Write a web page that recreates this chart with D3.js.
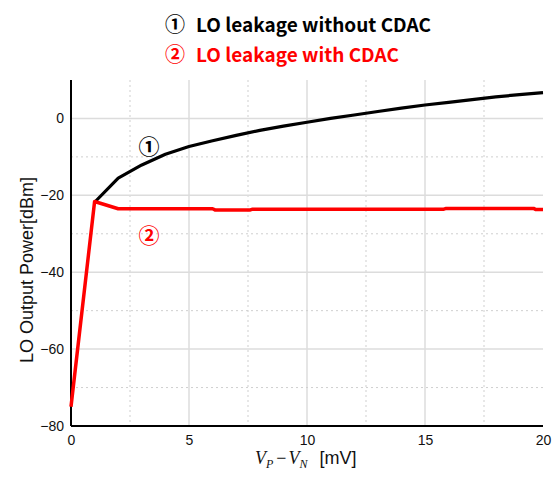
<!DOCTYPE html>
<html>
<head>
<meta charset="utf-8">
<script src="https://cdn.jsdelivr.net/npm/d3@7"></script>
<style>
  html, body { margin: 0; padding: 0; background: #fff; }
  svg { display: block; }
</style>
</head>
<body>
<svg id="chart" width="552" height="477"></svg>
<script>
// LO leakage vs. input offset voltage (VP - VN)
const xWithout = [1, 2, 3, 4, 5, 6, 7, 8, 9, 10, 11, 12, 13, 14, 15, 16, 17, 18, 19, 20];
const yWithout = [-21.8, -15.5, -12.1, -9.3, -7.3, -5.8, -4.4, -3.1, -2.0, -1.0, 0.0, 0.9, 1.8, 2.7, 3.5, 4.2, 4.9, 5.6, 6.2, 6.7];

const xWith = [0, 1, 2, 6, 6.1, 7.6, 7.7, 15.8, 15.9, 19.6, 19.7, 20];
const yWith = [-75, -21.6, -23.5, -23.5, -23.8, -23.8, -23.6, -23.6, -23.4, -23.4, -23.7, -23.7];

const xTicks = [0, 5, 10, 15, 20];
const xMinor = [2.5, 7.5, 12.5, 17.5];
const yTicks = [0, -20, -40, -60, -80];
const yMinor = [-10, -30, -50, -70];

const legendLabels = ["LO leakage without CDAC", "LO leakage with CDAC"];
const markers = ["\u2460", "\u2461"];
const seriesColors = ["#000000", "#ff0000"];

const svg = d3.select("#chart");
const plot = { left: 71, right: 543, top: 80, bottom: 426 };

const x = d3.scaleLinear().domain([0, 20]).range([plot.left, plot.right]);
const y = d3.scaleLinear().domain([-80, 10]).range([plot.bottom, plot.top]);

// grid: solid major lines, dotted minor lines
const grid = svg.append("g");
grid.selectAll(".vmaj").data(xTicks.filter(d => d > 0 && d < 20)).join("line")
  .attr("x1", d => x(d)).attr("x2", d => x(d))
  .attr("y1", plot.top).attr("y2", plot.bottom)
  .attr("stroke", "#dcdcdc").attr("stroke-width", 1.5);
grid.selectAll(".vmin").data(xMinor).join("line")
  .attr("x1", d => x(d)).attr("x2", d => x(d))
  .attr("y1", plot.top).attr("y2", plot.bottom)
  .attr("stroke", "#cfcfcf").attr("stroke-width", 1).attr("stroke-dasharray", "2,3");
grid.selectAll(".hmaj").data(yTicks.filter(d => d > -80)).join("line")
  .attr("x1", plot.left).attr("x2", plot.right)
  .attr("y1", d => y(d)).attr("y2", d => y(d))
  .attr("stroke", "#dcdcdc").attr("stroke-width", 1.5);
grid.selectAll(".hmin").data(yMinor).join("line")
  .attr("x1", plot.left).attr("x2", plot.right)
  .attr("y1", d => y(d)).attr("y2", d => y(d))
  .attr("stroke", "#cfcfcf").attr("stroke-width", 1).attr("stroke-dasharray", "2,3");

// axes
const xAxis = d3.axisBottom(x).tickValues(xTicks).tickSize(0).tickPadding(9);
const yAxis = d3.axisLeft(y).tickValues(yTicks).tickSize(0).tickPadding(7);

const gx = svg.append("g").attr("transform", `translate(0,${plot.bottom})`).call(xAxis);
gx.select(".domain").attr("stroke", "#000").attr("stroke-width", 2).attr("d", `M${plot.left},0H${plot.right}`);
gx.selectAll("text").attr("font-family", "Liberation Sans, Arial, sans-serif").attr("font-size", 14).attr("fill", "#111");

const gy = svg.append("g").attr("transform", `translate(${plot.left},0)`).call(yAxis);
gy.select(".domain").attr("stroke", "#000").attr("stroke-width", 2).attr("d", `M0,${plot.top}V${plot.bottom}`);
gy.selectAll("text").attr("font-family", "Liberation Sans, Arial, sans-serif").attr("font-size", 14).attr("fill", "#111");

// curves
const line = d3.line().x(d => x(d[0])).y(d => y(d[1]));
const withoutPts = xWithout.map((v, i) => [v, yWithout[i]]);
const withPts = xWith.map((v, i) => [v, yWith[i]]);

svg.append("path").datum(withoutPts).attr("d", line)
  .attr("fill", "none").attr("stroke", seriesColors[0]).attr("stroke-width", 3.2)
  .attr("stroke-linejoin", "round");
svg.append("path").datum(withPts).attr("d", line)
  .attr("fill", "none").attr("stroke", seriesColors[1]).attr("stroke-width", 3.5)
  .attr("stroke-linejoin", "round");

// curve markers
const cjk = "'Noto Sans CJK KR', 'Noto Sans', sans-serif";
svg.append("text").attr("x", x(3.3)).attr("y", y(-6.8)).attr("text-anchor", "middle")
  .attr("dominant-baseline", "central").attr("font-family", cjk).attr("font-size", 21)
  .attr("font-weight", "bold").attr("fill", seriesColors[0]).text(markers[0]);
svg.append("text").attr("x", x(3.3)).attr("y", y(-30.0)).attr("text-anchor", "middle")
  .attr("dominant-baseline", "central").attr("font-family", cjk).attr("font-size", 21)
  .attr("fill", seriesColors[1]).attr("font-weight", "bold").text(markers[1]);

// legend
const legend = svg.append("g");
[0, 1].forEach(i => {
  const cy = 23 + i * 30;
  legend.append("text").attr("x", 175).attr("y", cy).attr("text-anchor", "middle")
    .attr("dominant-baseline", "central").attr("font-family", cjk).attr("font-size", 20)
    .attr("font-weight", "bold")
    .attr("fill", seriesColors[i]).text(markers[i]);
  legend.append("text").attr("x", 196).attr("y", cy).attr("dominant-baseline", "central")
    .attr("font-family", cjk).attr("font-size", 19).attr("font-weight", "bold")
    .attr("fill", seriesColors[i]).text(legendLabels[i]);
});

// y axis title
svg.append("text")
  .attr("transform", `translate(33,270) rotate(-90)`)
  .attr("text-anchor", "middle")
  .attr("font-family", "Liberation Sans, Arial, sans-serif").attr("font-size", 18)
  .attr("fill", "#111").text("LO Output Power[dBm]");

// x axis title: V_P - V_N [mV]
const xt = svg.append("text").attr("x", 255).attr("y", 464)
  .attr("font-size", 18).attr("fill", "#111");
const serif = "'Liberation Serif', 'DejaVu Serif', serif";
xt.append("tspan").attr("font-family", serif).attr("font-style", "italic").text("V");
xt.append("tspan").attr("font-family", serif).attr("font-style", "italic").attr("font-size", 12).attr("dy", 4).text("P");
xt.append("tspan").attr("font-family", serif).attr("dy", -4).attr("dx", 3).text("\u2212");
xt.append("tspan").attr("font-family", serif).attr("font-style", "italic").attr("dx", 2).text("V");
xt.append("tspan").attr("font-family", serif).attr("font-style", "italic").attr("font-size", 12).attr("dy", 4).text("N");
xt.append("tspan").attr("font-family", "Liberation Sans, Arial, sans-serif").attr("dy", -4).attr("dx", 12).text("[mV]");
</script>
</body>
</html>
